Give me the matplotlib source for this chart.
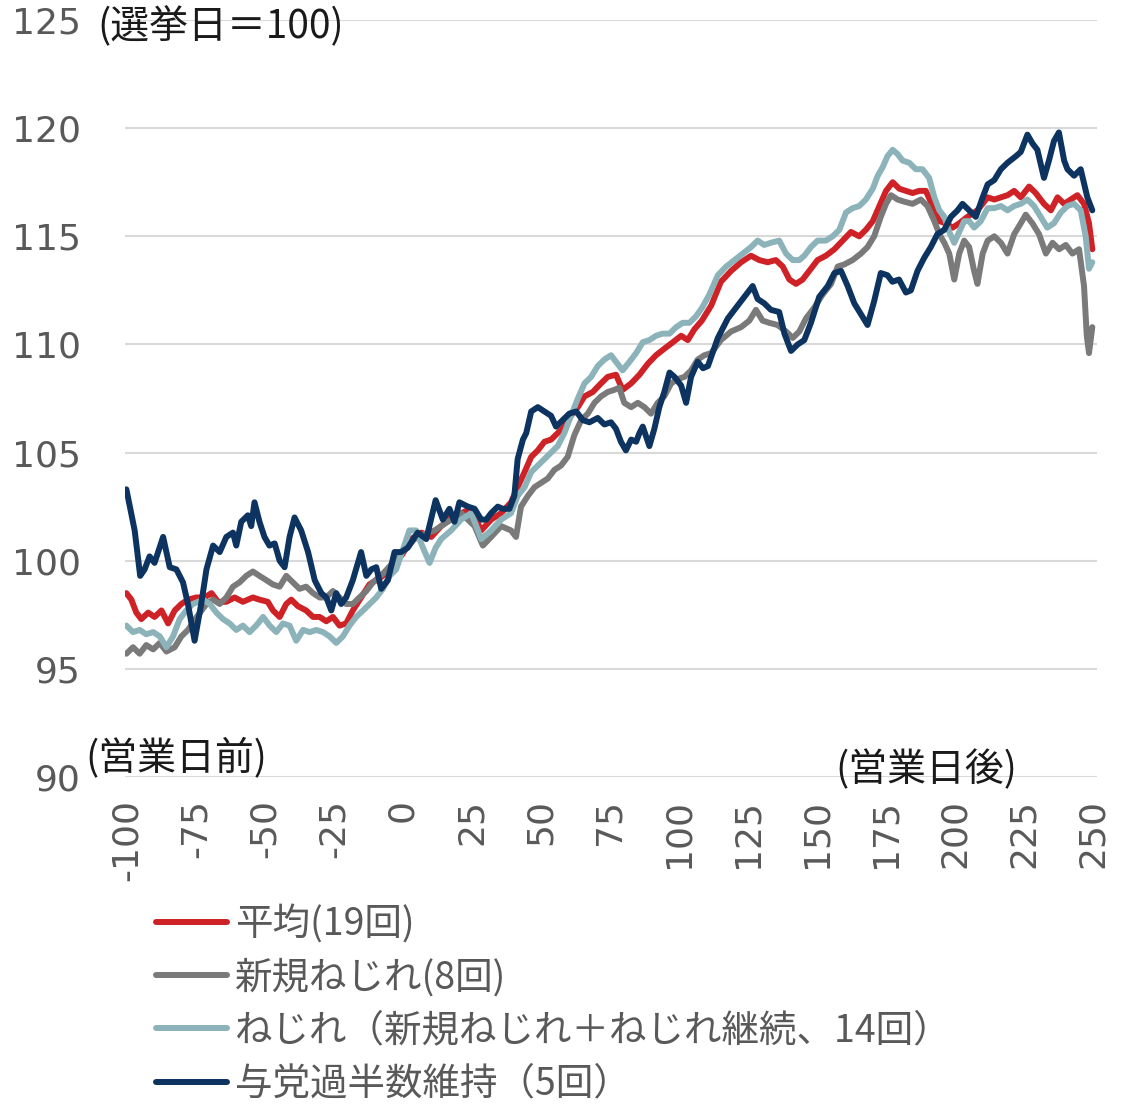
import matplotlib
matplotlib.use("Agg")
import matplotlib.pyplot as plt

plt.rcParams['font.family'] = 'DejaVu Sans'
plt.rcParams['axes.unicode_minus'] = False

# === data (x = business days from election day, y = index, election day = 100) ===
avg_days = [-100, -98.2, -96.4, -94.6, -92.1, -89.8, -87.3, -84.9, -82.5, -80.1, -77.7, -74.7, -71.7, -69.2,
            -66.8, -63.8, -60.8, -57.8, -54.2, -51.8, -48.8, -46.9, -44.5, -42.1, -40.3, -37.9, -34.9, -32.4,
            -30, -27.6, -25.2, -22.8, -20.4, -18, -15, -12, -7.1, -3.5, 0, 3.1, 6.8, 10.4, 14, 17.6, 21.2,
            24.9, 28.5, 32.1, 35.7, 39.3, 41.7, 44.2, 46.6, 49, 51.4, 53.8, 56.2, 58.6, 61, 63.5, 65.9, 68.9,
            71.9, 74.3, 77.3, 79.7, 82.8, 85.8, 88.8, 91.8, 94.8, 97.9, 100.9, 103.3, 105.7, 108.4, 111.8,
            115.3, 119, 122.6, 126.2, 129.2, 132.2, 135.2, 137.7, 140.1, 142.5, 144.9, 147.3, 150.3, 153.3,
            156.4, 159.4, 162.4, 165.4, 167.8, 170.3, 172.7, 175.1, 177.5, 179.9, 182.3, 184.7, 187.1, 189.5,
            192, 194.4, 196.8, 199.2, 201.6, 204.6, 208.2, 211.9, 214.3, 216.7, 219.1, 221.5, 223.9, 226.9,
            229.3, 232.3, 234.8, 237.2, 239.6, 242, 244.4, 246.8, 248.6, 249.8]
avg_vals = [98.5, 98.2, 97.6, 97.3, 97.6, 97.4, 97.7, 97.1, 97.7, 98.0, 98.2, 98.3, 98.3, 98.5,
            98.1, 98.1, 98.3, 98.1, 98.3, 98.2, 98.1, 97.7, 97.4, 98.0, 98.2, 97.9, 97.7, 97.4,
            97.4, 97.2, 97.4, 97.0, 97.1, 97.7, 98.3, 98.9, 99.3, 99.8, 100.3, 101.0, 101.3, 101.1, 101.6, 102.0, 102.2,
            102.4, 101.4, 101.9, 102.2, 102.7, 103.4, 104.1, 104.8, 105.1, 105.5, 105.6, 105.9, 106.2, 106.7, 107.1, 107.6, 107.8,
            108.2, 108.5, 108.6, 107.9, 108.2, 108.6, 109.1, 109.5, 109.8, 110.1, 110.4, 110.2, 110.7, 111.1, 111.8,
            112.9, 113.4, 113.8, 114.1, 113.9, 113.8, 113.9, 113.6, 113.0, 112.8, 113.0, 113.4, 113.9, 114.1,
            114.4, 114.8, 115.2, 115.0, 115.3, 115.7, 116.4, 117.1, 117.5, 117.2, 117.1, 117.0, 117.1, 117.1,
            116.4, 115.7, 115.6, 115.4, 115.6, 115.9, 116.2, 116.8, 116.7, 116.8, 116.9, 117.1, 116.8, 117.3,
            117.0, 116.5, 116.2, 116.8, 116.5, 116.7, 116.9, 116.5, 115.6, 114.4]

new_days = [-100, -97.6, -95.2, -92.8, -90.3, -87.9, -85.5, -82.5, -80.1, -77.7, -74.5, -71, -68.6, -66.2,
            -63.8, -61.4, -59, -56.6, -54.2, -51.8, -49.3, -46.9, -44.5, -42.1, -39.7, -37.3, -34.9, -32.4,
            -30, -27.6, -25.2, -22.8, -20.4, -18, -15.6, -13.1, -10.7, -7.1, -3.5, 0, 4.3, 9.2, 11.6, 16.4,
            21.2, 26.1, 29.1, 32.1, 35.7, 39.3, 41.1, 42.9, 45.4, 47.8, 50.2, 52.6, 55, 57.4, 59.8, 62.2, 64.7,
            67.1, 69.5, 71.9, 74.3, 76.7, 78.5, 80.3, 82.8, 85.2, 87.6, 90, 92.4, 94.8, 97.3, 99.7, 102.1, 104.5,
            106.9, 109.3, 111.8, 115.3, 119, 122.6, 125.6, 128, 130.4, 132.8, 135.8, 138.9, 141.3, 143.7, 146.1,
            149.1, 152.1, 155.2, 157.6, 160, 163, 166, 168.4, 170.8, 173.2, 175.1, 176.9, 179.3, 181.7, 184.7,
            187.7, 190.1, 192.6, 194.4, 196.2, 198, 199.8, 201.6, 203.4, 205.2, 207, 208.2, 210.1, 211.9, 214.3,
            216.7, 219.1, 221.5, 223.9, 225.7, 228.1, 230.5, 233, 235.4, 237.8, 240.2, 242.6, 245, 246.8, 247.8,
            248.6, 249.8]
new_vals = [95.7, 96.0, 95.7, 96.1, 95.9, 96.2, 95.8, 96.0, 96.5, 96.8, 97.4, 98.0, 98.2, 98.0,
            98.3, 98.8, 99.0, 99.3, 99.5, 99.3, 99.1, 98.9, 98.8, 99.3, 99.0, 98.7, 98.8, 98.5,
            98.3, 98.3, 98.6, 98.3, 98.0, 98.0, 98.3, 98.6, 99.0, 99.4, 99.9, 100.4, 101.0, 101.3, 101.4, 101.8,
            102.2, 101.6, 100.7, 101.1, 101.6, 101.4, 101.1, 102.5, 103.0, 103.4, 103.6, 103.8, 104.2, 104.4, 104.8, 105.8, 106.5,
            106.8, 107.3, 107.6, 107.8, 107.9, 108.0, 107.3, 107.1, 107.3, 107.1, 106.8, 107.3, 107.6, 108.2, 108.4, 108.5, 108.8,
            109.3, 109.5, 109.6, 110.2, 110.6, 110.8, 111.1, 111.6, 111.1, 111.0, 110.9, 110.6, 110.3, 110.6, 111.2,
            111.7, 112.3, 112.8, 113.6, 113.7, 113.9, 114.2, 114.5, 115.0, 115.9, 116.5, 116.9, 116.7, 116.6, 116.5,
            116.7, 116.4, 115.7, 115.1, 114.7, 114.2, 113.0, 114.2, 114.8, 114.5, 113.4, 112.8, 114.2, 114.8, 115.0,
            114.7, 114.2, 115.1, 115.6, 116.0, 115.6, 115.1, 114.2, 114.7, 114.4, 114.6, 114.2, 114.4, 112.7, 110.4,
            109.6, 110.8]

twist_days = [-100, -97.6, -95.2, -92.8, -90.3, -87.9, -85.5, -83.1, -80.7, -78.3, -75.9, -72.2, -69.8, -67.4,
              -65, -62.6, -60.2, -57.8, -55.4, -53, -50.5, -48.1, -45.7, -43.3, -40.9, -38.5, -36, -33.6,
              -31.2, -28.8, -26.4, -24, -21.6, -19.2, -16.8, -14.3, -11.9, -9.5, -7.1, -4.7, -2.3, 0.1, 2.5,
              4.9, 7.4, 9.8, 12, 14, 17.6, 21.2, 24.9, 28.5, 32.1, 35.7, 39.3, 41.7, 44.2, 46.6, 49, 51.4, 53.8,
              56.2, 58.6, 61, 63.5, 65.9, 68.3, 70.7, 73.1, 75.5, 77.3, 79.7, 82.2, 84.6, 87, 89.4, 91.8, 94.2,
              96.7, 99.1, 101.5, 103.9, 106.3, 108.5, 111.1, 114.2, 117.2, 120.2, 123.2, 126.2, 128.6, 131,
              133.4, 136.4, 138.9, 141.3, 143.7, 145.5, 147.9, 150.3, 153.3, 155.8, 158.2, 160.6, 163, 165.4,
              167.8, 170.3, 172.1, 173.9, 175.6, 177.5, 179.3, 181.1, 183.5, 185.9, 188.3, 190.7, 192.6, 194.4,
              196.2, 198, 199.8, 201.6, 203.4, 205.2, 207, 209.4, 211.9, 214.3, 216.7, 219.1, 221.5, 223.9,
              226.3, 228.7, 231.1, 233.5, 235.9, 238.4, 240.8, 243.2, 245.6, 247.4, 248.6, 249.8]
twist_vals = [97.0, 96.7, 96.8, 96.6, 96.7, 96.5, 96.0, 96.5, 97.3, 97.7, 98.0, 98.2, 98.0, 97.6,
              97.3, 97.1, 96.8, 97.0, 96.7, 97.0, 97.4, 97.0, 96.7, 97.1, 97.0, 96.3, 96.8, 96.7,
              96.8, 96.7, 96.5, 96.2, 96.5, 97.0, 97.4, 97.7, 98.0, 98.3, 98.7, 99.3, 99.6, 100.5, 101.4,
              101.4, 100.6, 99.9, 100.6, 101.0, 101.4, 101.9, 102.2, 101.0, 101.4, 101.9, 102.2, 103.0, 103.4, 104.1, 104.4, 104.7, 105.0,
              105.3, 105.9, 106.7, 107.5, 108.2, 108.5, 109.0, 109.3, 109.5, 109.2, 108.8, 109.2, 109.6, 110.1, 110.2, 110.4, 110.5,
              110.5, 110.8, 111.0, 111.0, 111.3, 111.7, 112.3, 113.2, 113.6, 113.9, 114.2, 114.5, 114.8, 114.6,
              114.7, 114.8, 114.2, 113.9, 113.9, 114.1, 114.5, 114.8, 114.8, 115.0, 115.3, 116.1, 116.3, 116.4,
              116.7, 117.2, 117.8, 118.2, 118.7, 119.0, 118.8, 118.5, 118.4, 118.1, 118.1, 117.7, 116.8, 116.2,
              115.9, 115.2, 114.7, 115.2, 115.7, 115.7, 115.4, 115.7, 116.3, 116.3, 116.4, 116.2, 116.4, 116.5,
              116.7, 116.4, 115.9, 115.4, 115.6, 116.1, 116.4, 116.5, 116.2, 115.0, 113.5, 113.8]

major_days = [-100, -97, -95, -93.4, -91.6, -89.8, -86.7, -84.3, -81.9, -79.5, -77.7, -75.3, -72.9, -71,
              -68.6, -66.2, -63.8, -61.4, -60.2, -58.4, -56, -54.8, -53.6, -51.8, -50, -48.2, -46.3, -44.5,
              -42.7, -40.9, -39.1, -36.7, -34.2, -31.8, -29.4, -27.6, -25.8, -24, -22.2, -20.4, -18, -15,
              -13.1, -11.3, -9.5, -7.7, -5.3, -2.9, -0.5, 1.9, 5.5, 8.6, 12, 14.6, 17, 18.8, 20.6, 23.7, 26.1,
              28.5, 30.3, 32.1, 34.5, 36.3, 38.7, 40.5, 41.7, 43.6, 44.8, 46.6, 49, 51.4, 53.8, 55.6, 58, 60.4,
              62.9, 65.3, 67.7, 70.7, 73.1, 75.5, 77.3, 79.1, 80.9, 82.8, 84.6, 85.8, 87, 89.4, 91.2, 93, 94.8,
              96.7, 98.5, 100.9, 102.7, 104.5, 106.9, 108.8, 110.6, 114.2, 117.8, 121.4, 125, 126.8, 128.6, 131,
              133.4, 136.4, 138.3, 140.7, 143.1, 145.5, 147.9, 150.9, 154, 156.4, 158.8, 161.2, 163.6, 166,
              168.4, 170.8, 173.2, 175.6, 177.4, 179.8, 182.3, 184.1, 186.5, 188.9, 191.3, 193.7, 196.2, 198.6,
              201, 202.8, 205.2, 207.6, 210.1, 211.9, 214.3, 216.7, 219.1, 222.1, 223.9, 226.3, 228.1, 229.9,
              232.3, 234.1, 235.9, 237.7, 239.6, 240.8, 243.2, 245.6, 248, 249.8]
major_vals = [103.3, 101.4, 99.3, 99.6, 100.2, 99.9, 101.1, 99.7, 99.6, 99.0, 98.0, 96.3, 98.0, 99.6,
              100.7, 100.4, 101.1, 101.3, 100.7, 101.8, 102.1, 101.6, 102.7, 101.8, 101.1, 100.7, 100.8, 100.0,
              99.7, 101.1, 102.0, 101.4, 100.4, 99.1, 98.5, 98.3, 97.7, 98.5, 98.0, 98.3, 99.1, 100.4,
              99.3, 99.6, 99.7, 98.7, 99.1, 100.4, 100.4, 100.6, 101.3, 101.0, 102.8, 101.9, 102.4, 101.8, 102.7, 102.5, 102.4,
              101.9, 101.9, 102.2, 102.5, 102.4, 102.4, 103.0, 104.7, 105.6, 105.9, 106.9, 107.1, 106.9, 106.7, 106.2, 106.5, 106.8,
              106.9, 106.5, 106.4, 106.6, 106.3, 106.4, 106.1, 105.5, 105.1, 105.6, 105.5, 105.9, 106.2, 105.3, 106.1, 107.1, 107.8,
              108.7, 108.5, 108.1, 107.3, 108.5, 109.2, 108.9, 109.0, 110.3, 111.2, 111.8, 112.4, 112.7, 112.1, 111.9,
              111.6, 111.5, 110.5, 109.7, 110.0, 110.2, 111.0, 112.2, 112.7, 113.3, 113.4, 112.7, 111.9, 111.4,
              110.9, 112.0, 113.3, 113.2, 112.9, 113.0, 112.4, 112.5, 113.4, 114.0, 114.5, 115.1, 115.3, 115.9,
              116.2, 116.5, 116.2, 115.9, 116.8, 117.4, 117.6, 118.1, 118.4, 118.7, 118.9, 119.7, 119.3, 119.0,
              117.7, 118.5, 119.4, 119.8, 118.5, 118.1, 117.8, 118.1, 116.8, 116.2]

labels = ['平均(19回)', '新規ねじれ(8回)', 'ねじれ（新規ねじれ＋ねじれ継続、14回）', '与党過半数維持（5回）']
colors = ['#cf2227', '#7a7a7a', '#8bb3b9', '#0d3460']
x_ticks = list(range(-100, 251, 25))
y_ticks = list(range(90, 126, 5))

JP = ['Noto Sans CJK JP', 'DejaVu Sans']
TXT = '#595959'

# === figure ===
fig = plt.figure(figsize=(11.34, 11.07), dpi=100)
ax = fig.add_axes([125 / 1134, 1 - 777 / 1107, 972 / 1134, 757 / 1107])

series = [(avg_days, avg_vals), (new_days, new_vals), (twist_days, twist_vals), (major_days, major_vals)]
for (d, v), lab, c in zip(series, labels, colors):
    ax.plot(d, v, color=c, lw=4.3, label=lab, solid_joinstyle='round', solid_capstyle='round')

ax.set_xlim(-100.5, 251.5)
ax.set_ylim(90, 125)
ax.set_xticks(x_ticks)
ax.set_yticks(y_ticks)
ax.set_xticklabels([str(t) for t in x_ticks], rotation=90)
ax.tick_params(axis='both', length=0, labelsize=26, labelcolor=TXT)
ax.tick_params(axis='y', pad=32)
ax.tick_params(axis='x', pad=16)
ax.grid(axis='y', color='#d9d9d9', lw=1.5)
ax.set_axisbelow(True)
for s in ax.spines.values():
    s.set_visible(False)

# === annotations ===
fig.text(97 / 1134, 1 - 27 / 1107, '(選挙日＝100)', family=JP, fontsize=28, color='#1a1a1a', va='center')
fig.text(85 / 1134, 1 - 758 / 1107, '(営業日前)', family=JP, fontsize=28, color='#1a1a1a', va='center')
fig.text(835 / 1134, 1 - 770 / 1107, '(営業日後)', family=JP, fontsize=28, color='#1a1a1a', va='center')

# === legend ===
leg = ax.legend(loc='upper left', bbox_to_anchor=(156 / 1134, 1 - 905 / 1107),
                bbox_transform=fig.transFigure, frameon=False, prop={'family': JP, 'size': 27},
                handlelength=1.9, handletextpad=0.2, labelspacing=0.38, borderpad=0, borderaxespad=0)
for t in leg.get_texts():
    t.set_color(TXT)

fig.savefig('out.png', dpi=100)
